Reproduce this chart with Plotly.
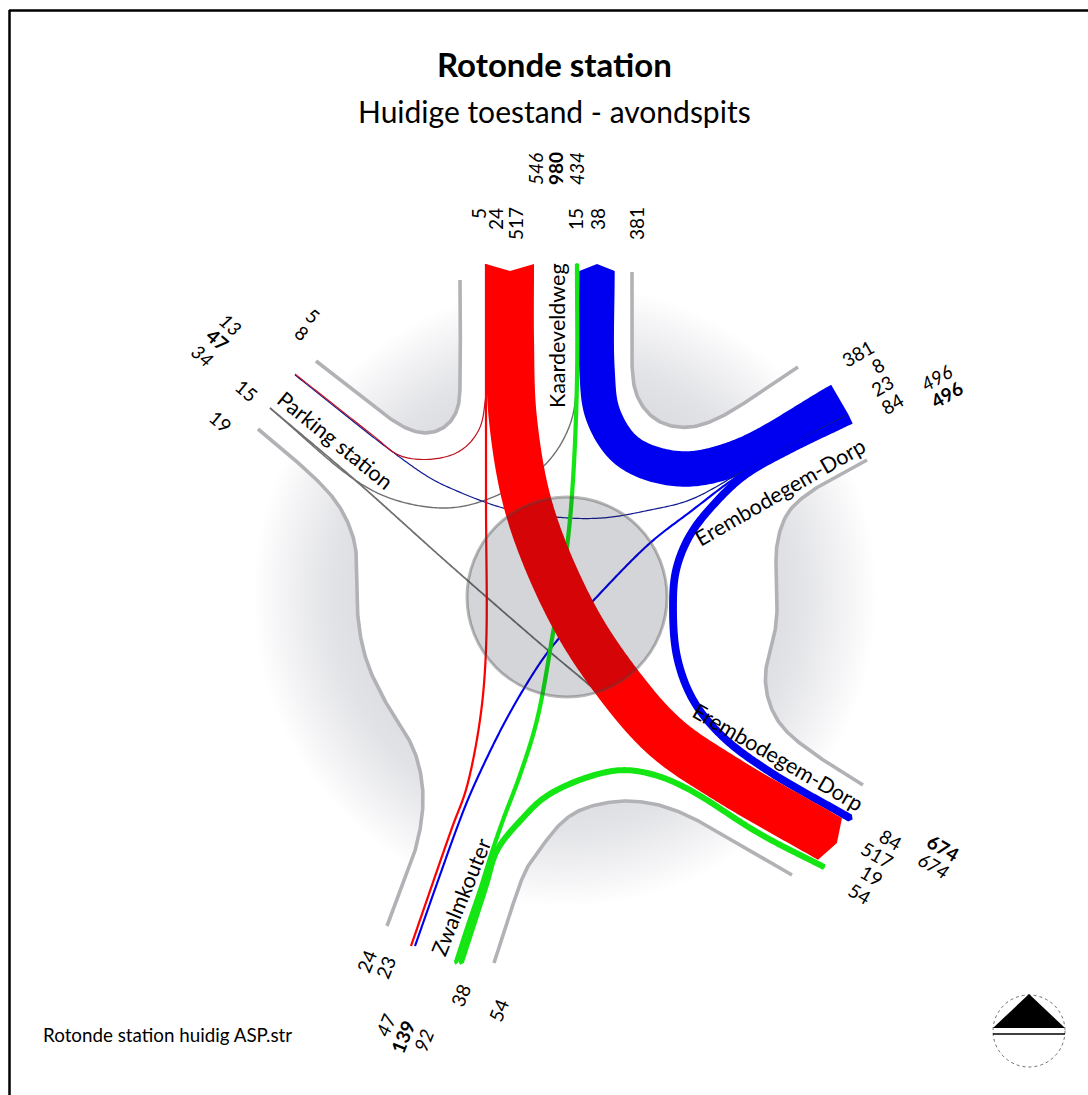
import numpy as np
import plotly.graph_objects as go

# ---- traffic data (passenger cars per hour) ----
FLOW_NAMES = ["K-P", "K-Z", "K-E", "EU-K", "EU-P", "EU-Z", "EU-E", "P-K", "P-E", "Z-K", "Z-E"]
FLOW_VOLUMES = [5, 24, 517, 381, 8, 23, 84, 15, 19, 38, 54]
FLOW_GROUP = ["red", "red", "red", "blue", "blue", "blue", "blue", "gray", "gray", "green", "green"]

TITLE = "Rotonde station"
SUBTITLE = "Huidige toestand - avondspits"
FOOTER = "Rotonde station huidig ASP.str"
ROAD_NAMES = ["Kaardeveldweg", "Parking station", "Erembodegem-Dorp", "Erembodegem-Dorp", "Zwalmkouter"]
VALUE_LABELS = ["546", "980", "434", "5", "24", "517", "15", "38", "381",
                "13", "47", "34", "5", "8", "15", "19",
                "381", "8", "23", "84", "496", "496",
                "84", "517", "19", "54", "674", "674",
                "24", "23", "38", "54", "47", "139", "92"]

# ---- styles and geometry ----
PX_PER_CAR = 0.093
GROUP_SCALE = {"red": 1.0, "blue": 1.0, "gray": 1.0, "green": 1.2}
MIN_W = 1.2
COLORS = {"red": "#ff0000", "blue": "#0000f0", "gray": "#6e6e6e", "green": "#14e614"}
THIN = {"red": "#c01020", "blue": "#101a90", "gray": "#707070", "green": "#14e614"}

PATHS = {
    "K-P": [(486, 395), (480, 428), (462, 450), (435, 459), (400, 456), (375, 437), (295, 374)],
    "K-Z": [(486, 264), (486, 500), (486, 650), (480, 720), (466, 790), (453, 825), (411, 946)],
    "K-E": [(510, 264), (510, 340), (513, 420), (530, 512), (572, 613), (616, 681), (665, 737), (726, 779), (830, 839)],
    "EU-K": [(597, 271), (597, 370), (603, 415), (628, 452), (680, 469), (739, 457), (840, 400)],
    "EU-P": [(847, 415), (790, 445), (740, 473), (690, 500), (650, 510), (603, 518), (555, 517), (503, 508), (450, 488), (430, 478), (390, 450), (295, 375)],
    "EU-Z": [(849, 416), (790, 446), (738, 476), (690, 512), (650, 543), (592, 602), (555, 643), (540, 663), (507, 718), (472, 790), (458, 825), (440, 875), (415, 946)],
    "EU-E": [(851, 420), (790, 449.5), (745, 475), (715, 503), (690, 535), (676, 570), (673, 607), (677, 657), (693, 700), (723, 737), (770, 772), (850, 818)],
    "P-K": [(270, 408), (355, 480), (395, 500), (450, 508), (498, 495), (545, 465), (570, 425), (577, 380), (577, 265)],
    "P-E": [(270, 408), (355, 480), (450, 565), (550, 652), (587, 683), (640, 730), (720, 790), (820, 850)],
    "Z-K": [(577, 264), (577, 380), (573, 480), (567, 547), (553, 633), (537, 720), (520, 775), (503, 820), (491, 855), (480, 890), (468, 925), (456, 962)],
    "Z-E": [(824, 867), (760, 834), (690, 790), (655, 775), (622, 770), (585, 778), (545, 797), (521, 820), (497, 850), (486, 885), (473, 925), (461, 962)],
}
CAPS = {"K-E": (-7, 8), "EU-K": (7, 0), "EU-E": (0, 3), "Z-K": (1, 3), "Z-E": (1, 3)}

CURBS = [
    [(316, 361), (385, 415), (405, 428), (425, 434), (445, 428), (458, 410), (460, 385), (460, 280)],
    [(632, 272), (632, 365), (636, 395), (655, 420), (685, 428), (715, 420), (798, 367)],
    [(867, 460), (813, 490), (787, 513), (776, 550), (777, 583), (776, 627), (765, 673), (769, 703), (782, 727), (813, 753), (863, 785)],
    [(792, 875), (720, 833), (680, 812), (645, 802), (610, 802), (570, 815), (537, 853), (527, 867), (494, 963)],
    [(387, 926), (418, 840), (423, 790), (413, 747), (390, 710), (367, 663), (358, 620), (357, 587), (355, 543), (340, 507), (317, 480), (258, 429)],
]
ROAD_GAPS = [[(460, 200), (632, 200)], [(880, 340), (900, 440)], [(900, 800), (830, 920)],
             [(494, 1010), (387, 1010)], [(200, 400), (260, 300)]]

ROAD_POS = [(557, 336, -90), (335, 440, 39), (780, 492, -30), (778, 757, 30), (461, 897, -68)]
LABEL_POS = [(535, 169, -90), (555, 169, -90), (576, 169, -90), (478, 214, -90), (495, 219, -90), (515, 224, -90),
             (575, 219, -90), (597, 219, -90), (636, 224, -90),
             (231, 324, 40), (218, 339, 40), (203, 355, 40), (313, 315, 40), (302, 332, 40), (247, 390, 40), (221, 421, 40),
             (857, 353, -30), (877, 365, -30), (882, 385, -30), (892, 403, -30), (936, 377, -30), (946, 394, -30),
             (891, 839, 30), (877, 854, 30), (872, 875, 30), (860, 893, 30), (943, 847, 30), (934, 865, 30),
             (366, 961, -68), (385, 967, -68), (460, 995, -68), (498, 1010, -68), (385, 1025, -68), (402, 1037, -68), (423, 1040, -68)]
BOLD = {1, 10, 21, 26, 33}
ITALIC = {0, 2, 9, 11, 20, 27, 32, 34}
FONT = "Lato"


def catmull(pts, n=14):
    p = np.array(pts, float)
    p = np.vstack([2 * p[0] - p[1], p, 2 * p[-1] - p[-2]])
    out = []
    for i in range(1, len(p) - 2):
        p0, p1, p2, p3 = p[i - 1], p[i], p[i + 1], p[i + 2]
        t0 = 0.0
        t1 = t0 + np.linalg.norm(p1 - p0) ** 0.5
        t2 = t1 + np.linalg.norm(p2 - p1) ** 0.5
        t3 = t2 + np.linalg.norm(p3 - p2) ** 0.5
        for t in np.linspace(t1, t2, n, endpoint=False):
            a1 = (t1 - t) / (t1 - t0) * p0 + (t - t0) / (t1 - t0) * p1
            a2 = (t2 - t) / (t2 - t1) * p1 + (t - t1) / (t2 - t1) * p2
            a3 = (t3 - t) / (t3 - t2) * p2 + (t - t2) / (t3 - t2) * p3
            b1 = (t2 - t) / (t2 - t0) * a1 + (t - t0) / (t2 - t0) * a2
            b2 = (t3 - t) / (t3 - t1) * a2 + (t - t1) / (t3 - t1) * a3
            out.append((t2 - t) / (t2 - t1) * b1 + (t - t1) / (t2 - t1) * b2)
    out.append(p[-2])
    return np.array(out)


def smooth(pts, window=24.0, step=2.0):
    """Spline through the way-points, resampled by length and softened to drop kinks."""
    c = catmull(pts)
    s = np.concatenate([[0], np.cumsum(np.linalg.norm(np.diff(c, axis=0), axis=1))])
    u = np.arange(0, s[-1], step)
    u = np.append(u, s[-1])
    r = np.column_stack([np.interp(u, s, c[:, 0]), np.interp(u, s, c[:, 1])])
    k = int(window / step) | 1
    h = k // 2
    head = 2 * r[0] - r[1:h + 1][::-1]
    tail = 2 * r[-1] - r[-h - 1:-1][::-1]
    e = np.vstack([head, r, tail])
    ker = np.hanning(k + 2)[1:-1]
    ker = ker / ker.sum()
    return np.column_stack([np.convolve(e[:, 0], ker, "valid"), np.convolve(e[:, 1], ker, "valid")])


def ribbon(pts, w, cap0=0, cap1=0):
    c = smooth(pts)
    d = np.gradient(c, axis=0)
    d = d / np.linalg.norm(d, axis=1, keepdims=True)
    nrm = np.column_stack([-d[:, 1], d[:, 0]])
    left = c + nrm * w / 2
    right = c - nrm * w / 2
    poly = np.vstack([[c[0] - d[0] * cap0], left, [c[-1] + d[-1] * cap1], right[::-1], [c[0] - d[0] * cap0]])
    return poly[:, 0], poly[:, 1]


fig = go.Figure()

# background: circular shading, road surface on top, then curbs
angles = np.linspace(0, 2 * np.pi, 181)
fig.add_trace(go.Scatter(
    x=565 + 312 * np.cos(angles), y=595 + 312 * np.sin(angles), mode="none", fill="toself",
    fillgradient=dict(type="radial", colorscale=[[0, "#dadbdf"], [0.6, "#dadbdf"], [0.75, "#e2e3e6"], [0.9, "#f3f3f5"], [1, "#ffffff"]]),
    hoverinfo="skip", showlegend=False))

CURB_SOFTEN = 44.0
road = []
for curb, gap in zip(CURBS, ROAD_GAPS):
    road.extend(smooth(curb, CURB_SOFTEN).tolist())
    road.extend(gap)
road = np.array(road + [road[0]])
fig.add_trace(go.Scatter(x=road[:, 0], y=road[:, 1], mode="none", fill="toself", fillcolor="#ffffff",
                         hoverinfo="skip", showlegend=False))
for curb in CURBS:
    s = smooth(curb, CURB_SOFTEN)
    fig.add_trace(go.Scatter(x=s[:, 0], y=s[:, 1], mode="lines", line=dict(color="#b2b2b6", width=3.6),
                             hoverinfo="skip", showlegend=False))

# flows, in the reference's stacking order
ORDER = ["gray", "blue", "green", "red"]
for group in ORDER:
    for name, vol, g in zip(FLOW_NAMES, FLOW_VOLUMES, FLOW_GROUP):
        if g != group:
            continue
        w = max(vol * PX_PER_CAR * GROUP_SCALE[g], MIN_W)
        cap0, cap1 = CAPS.get(name, (0, 0))
        x, y = ribbon(PATHS[name], w, cap0, cap1)
        col = COLORS[g] if vol > 20 else THIN[g]
        fig.add_trace(go.Scatter(x=x, y=y, mode="none", fill="toself", fillcolor=col,
                                 name=name, hoverinfo="skip", showlegend=False))

# roundabout, frame and north sign
shapes = [
    dict(type="circle", xref="x", yref="y", x0=467, x1=667, y0=497, y1=697, layer="above",
         fillcolor="rgba(15,20,40,0.18)", line=dict(color="rgba(70,70,70,0.38)", width=3)),
    dict(type="line", xref="x", yref="y", x0=9.5, x1=9.5, y0=10, y1=1095, line=dict(color="#000000", width=2.5)),
    dict(type="line", xref="x", yref="y", x0=9, x1=1088, y0=10.5, y1=10.5, line=dict(color="#000000", width=2.5)),
    dict(type="circle", xref="x", yref="y", x0=993, x1=1065, y0=995, y1=1067,
         line=dict(color="#707070", width=1, dash="dot")),
    dict(type="path", xref="x", yref="y", path="M 993 1028 L 1029 994 L 1065 1028 Z", fillcolor="#000000",
         line=dict(width=0)),
    dict(type="line", xref="x", yref="y", x0=993, x1=1065, y0=1034, y1=1034, line=dict(color="#000000", width=1.5)),
]

ann = [
    dict(x=554, y=64, text="<b>%s</b>" % TITLE, font=dict(size=33)),
    dict(x=554, y=111, text=SUBTITLE, font=dict(size=30)),
    dict(x=167, y=1034, text=FOOTER, font=dict(size=18.8)),
]
for txt, (x, y, rot) in zip(ROAD_NAMES, ROAD_POS):
    ann.append(dict(x=x, y=y, text=txt, textangle=rot, font=dict(size=21.5)))
for i, (txt, (x, y, rot)) in enumerate(zip(VALUE_LABELS, LABEL_POS)):
    t = txt
    if i in BOLD:
        t = "<b>%s</b>" % t
    if i in ITALIC:
        t = "<i>%s</i>" % t
    ann.append(dict(x=x, y=y, text=t, textangle=rot, font=dict(size=19)))
for a in ann:
    a.update(xref="x", yref="y", showarrow=False, xanchor="center", yanchor="middle")
    a["font"].update(family=FONT, color="#000000")

fig.update_layout(
    width=1088, height=1095, margin=dict(l=0, r=0, t=0, b=0), paper_bgcolor="#ffffff", plot_bgcolor="#ffffff",
    xaxis=dict(range=[0, 1088], visible=False, fixedrange=True),
    yaxis=dict(range=[1095, 0], visible=False, fixedrange=True),
    shapes=shapes, annotations=ann, showlegend=False,
)
fig.write_html("out.html", config=dict(displayModeBar=False),
               post_script="document.body.style.margin='0';document.body.style.overflow='hidden';")
